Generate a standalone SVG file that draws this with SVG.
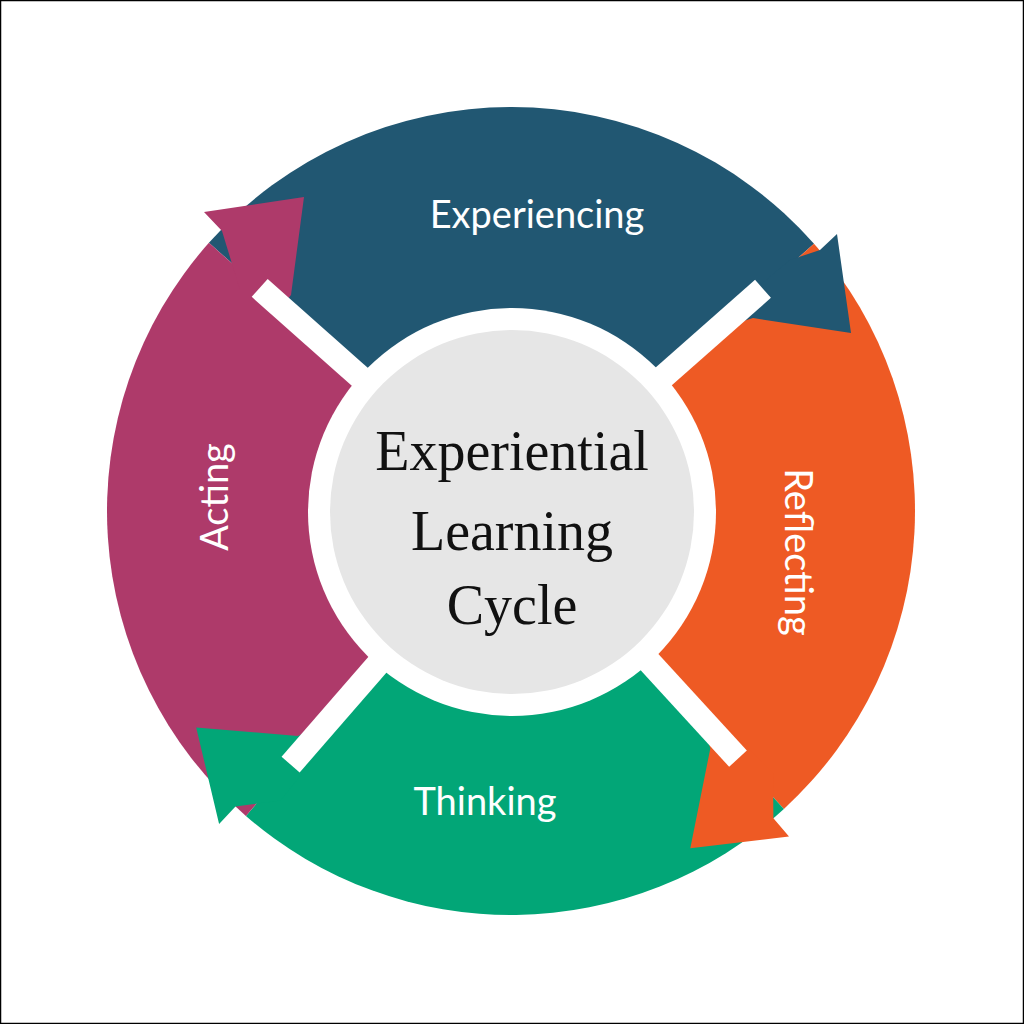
<svg xmlns="http://www.w3.org/2000/svg" width="1024" height="1024" viewBox="0 0 1024 1024">
<style>
.lbl{font-family:"Lato","Open Sans",sans-serif;font-size:38px;fill:#fff;text-anchor:middle;dominant-baseline:central}
.ctr{font-family:"Liberation Serif",serif;font-size:56px;fill:#111;text-anchor:middle}
.bar{stroke:#fff;stroke-width:24}
</style>
<rect x="0.5" y="0.5" width="1023" height="1023" fill="#fff" stroke="#000" stroke-width="1.5"/>
<g id="bodies">
<path d="M511,511 L208.9,242.8 A404,404 0 0 1 814,243.8 Z" fill="#215772"/>
<path d="M511,511 L814,243.8 A404,404 0 0 1 783.9,808.9 Z" fill="#ee5a24"/>
<path d="M511,511 L783.9,808.9 A404,404 0 0 1 245.9,815.9 Z" fill="#02a677"/>
<path d="M511,511 L245.9,815.9 A404,404 0 0 1 208.9,242.8 Z" fill="#ae3a6a"/>
</g>
<g id="arrowheads">
<polygon points="790,260 820,250 837,234 851,333 753,318 700,335" fill="#215772"/>
<polygon points="773,773 773.4,818.2 789,836.4 690.3,848.3 710.3,748.5 694.8,694.8" fill="#ee5a24"/>
<polygon points="280.7,800.6 235.5,806.5 219.1,824 196.2,727.4 297.6,735.9 349.2,714.5" fill="#02a677"/>
<polygon points="240,290 222,231 204,212 304,197 291,295 270,320" fill="#ae3a6a"/>
</g>
<g id="connectors">
<line class="bar" x1="511" y1="511" x2="763" y2="288.8"/>
<line class="bar" x1="511" y1="511" x2="738" y2="758.7"/>
<line class="bar" x1="511" y1="511" x2="290.6" y2="764.6"/>
<line class="bar" x1="511" y1="511" x2="259.7" y2="287.9"/>
</g>
<g id="center">
<circle cx="512" cy="512" r="204" fill="#fff"/>
<circle cx="512" cy="512" r="182" fill="#e6e6e6"/>
<text class="ctr" x="512" y="470">Experiential</text>
<text class="ctr" x="512" y="550">Learning</text>
<text class="ctr" x="512" y="624">Cycle</text>
</g>
<g id="experiencing"><text class="lbl" x="537" y="213">Experiencing</text></g>
<g id="reflecting"><text class="lbl" transform="translate(800,552) rotate(90)">Reflecting</text></g>
<g id="thinking"><text class="lbl" x="485" y="800">Thinking</text></g>
<g id="acting"><text class="lbl" transform="translate(213,497) rotate(-90)">Acting</text></g>
</svg>
